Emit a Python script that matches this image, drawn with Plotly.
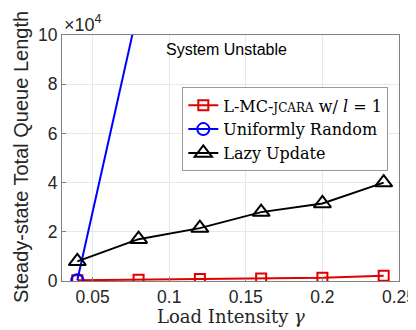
import plotly.graph_objects as go

x_vals = [0.04, 0.08, 0.12, 0.16, 0.2, 0.24]
lmc_vals = [300, 500, 800, 1000, 1300, 2100]
uniform_x = [0.04, 0.08]
uniform_vals = [300, 111400]
lazy_vals = [8000, 17000, 21500, 28000, 31500, 40000]

x_ticks = [0.05, 0.1, 0.15, 0.2, 0.25]
x_tick_text = ["0.05", "0.1", "0.15", "0.2", "0.25"]
y_ticks = [0, 20000, 40000, 60000, 80000, 100000]
y_tick_text = ["0", "2", "4", "6", "8", "10"]

fig = go.Figure()
fig.add_trace(go.Scatter(
    x=x_vals, y=lmc_vals, mode="lines+markers",
    name="L-MC-<span style='font-size:12px'>JCARA</span> w/ <i>l</i> = 1",
    line=dict(color="#e00000", width=2),
    marker=dict(symbol="square-open", size=10, color="#e00000", line=dict(width=2))))
fig.add_trace(go.Scatter(
    x=uniform_x, y=uniform_vals, mode="lines+markers",
    name="Uniformly Random",
    line=dict(color="#0000ff", width=2),
    marker=dict(symbol="circle-open", size=12, color="#0000ff", line=dict(width=2))))
fig.add_trace(go.Scatter(
    x=x_vals, y=lazy_vals, mode="lines+markers",
    name="Lazy Update",
    line=dict(color="#000000", width=2),
    marker=dict(symbol="triangle-up-open", size=15, color="#000000", line=dict(width=2))))

fig.add_annotation(x=0.1377, y=94300, text="System Unstable", showarrow=False,
                   font=dict(family="Liberation Sans, Arial", size=16, color="black"))
fig.add_annotation(xref="paper", yref="paper", x=0.0, y=1.0, xanchor="left", yanchor="bottom",
                   yshift=-2, text="×10<sup>4</sup>", showarrow=False,
                   font=dict(family="Liberation Sans, Arial", size=18, color="#262626"))
# axis titles
fig.add_annotation(xref="paper", yref="paper", x=0.5, y=-0.146, xanchor="center", yanchor="middle",
                   text="Load Intensity <i>γ</i>", showarrow=False,
                   font=dict(family="DejaVu Serif, Liberation Serif", size=18, color="#262626"))
fig.add_annotation(xref="paper", yref="paper", x=-0.1217, y=0.504, xanchor="center", yanchor="middle",
                   textangle=-90, text="Steady-state Total Queue Length", showarrow=False,
                   font=dict(family="Liberation Sans, Arial", size=20, color="#262626"))

axis_common = dict(showgrid=True, gridcolor="#e8e8e8", gridwidth=1,
                   showline=True, linecolor="#808080", linewidth=1, mirror=True,
                   ticks="inside", ticklen=4, tickcolor="#808080", zeroline=False,
                   automargin=False, ticklabeloverflow="allow",
                   tickfont=dict(family="Liberation Sans, Arial", size=17.5, color="#262626"))

# page body has an 8px margin, so the figure is 8px smaller and shifted
fig.update_layout(
    width=408, height=322,
    margin=dict(l=54, r=17, t=27, b=49),
    plot_bgcolor="white", paper_bgcolor="white",
    showlegend=True,
    legend=dict(x=0.357, y=0.787, xanchor="left", yanchor="top",
                bgcolor="white", bordercolor="#999999", borderwidth=1,
                font=dict(family="DejaVu Serif, Liberation Serif", size=16, color="black"),
                itemwidth=30, tracegroupgap=0),
    xaxis=dict(range=[0.03, 0.25], tickvals=x_ticks, ticktext=x_tick_text, **axis_common),
    yaxis=dict(range=[0, 100000], tickvals=y_ticks, ticktext=y_tick_text, **axis_common),
)

fig.write_html("out.html")
